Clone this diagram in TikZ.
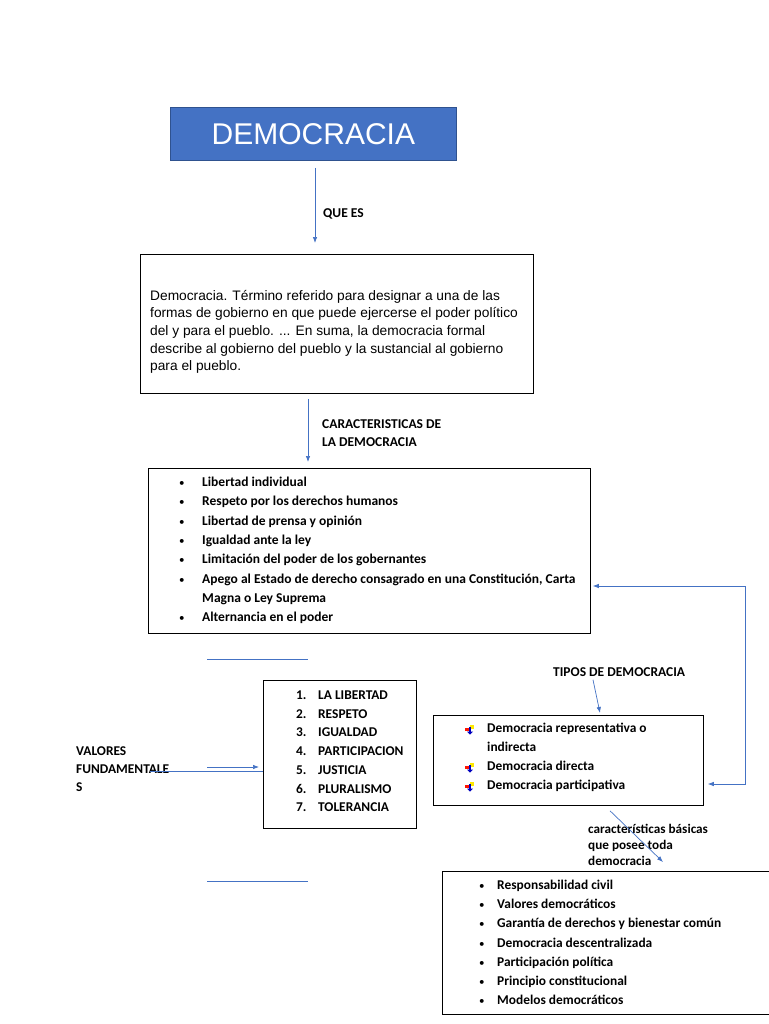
\documentclass[tikz,border=0pt]{standalone}
\usepackage{fontspec}
\setmainfont{Carlito}
\newfontfamily\arial{Liberation Sans}
\usetikzlibrary{arrows.meta,calc,positioning}
\definecolor{azul}{HTML}{4472C4}
\definecolor{azulborde}{HTML}{2F528F}
\newcommand{\vineta}{{\mdseries\fontsize{11}{11}\selectfont\textbullet}}

\begin{document}
\begin{tikzpicture}[x=1pt,y=-1pt,
    caja/.style={draw=black, line width=0.8pt, inner sep=0pt, anchor=north west},
    linea/.style={draw=azul, line width=0.7pt},
    flecha/.style={linea, -{Latex[length=6pt,width=4.5pt]}},
    etiqueta/.style={font=\fontsize{13.5}{17}\selectfont\bfseries, anchor=base west, inner sep=0pt},
    lista/.style={font=\fontsize{13.5}{19.3}\selectfont\bfseries, anchor=base west, inner sep=0pt}]
  \useasboundingbox[fill=white] (0,0) rectangle (768,1024);

  % Titulo
  \node[caja, draw=azulborde, fill=azul, text=white, font=\arial\fontsize{30}{31}\selectfont,
        minimum width=286pt, minimum height=53pt] (titulo) at (170,107) {DEMOCRACIA};

  % Definicion
  \node[caja, minimum width=393pt, minimum height=139pt] (definicion) at (140,254) {};
  \node[anchor=base west, inner sep=0pt, font=\arial\fontsize{13.75}{17.7}\selectfont] (deftexto) at (150,300)
    {\begin{tabular}[t]{@{}l@{}}
      Democracia. Término referido para designar a una de las\\
      formas de gobierno en que puede ejercerse el poder político\\
      del y para el pueblo. ... En suma, la democracia formal\\
      describe al gobierno del pueblo y la sustancial al gobierno\\
      para el pueblo.
    \end{tabular}};

  \coordinate (eje1) at (315,0);
  \draw[flecha, shorten <=7pt, shorten >=11pt] (titulo.south -| eje1) -- (definicion.north -| eje1);
  \node[etiqueta] (quees) at (323,218) {QUE ES};

  % Caracteristicas
  \node[caja, minimum width=442pt, minimum height=165pt] (rasgos) at (148,468) {};
  \node[lista] (rasgostexto) at (179,486.5)
    {\begin{tabular}[t]{@{}p{23pt}@{}l@{}}
      \vineta & Libertad individual\\
      \vineta & Respeto por los derechos humanos\\
      \vineta & Libertad de prensa y opinión\\
      \vineta & Igualdad ante la ley\\
      \vineta & Limitación del poder de los gobernantes\\
      \vineta & Apego al Estado de derecho consagrado en una Constitución, Carta\\
              & Magna o Ley Suprema\\
      \vineta & Alternancia en el poder
    \end{tabular}};

  \coordinate (eje2) at (308,0);
  \draw[flecha, shorten <=5pt, shorten >=6pt] (definicion.south -| eje2) -- (rasgos.north -| eje2);
  \node[etiqueta, font=\fontsize{13.5}{18}\selectfont\bfseries] (caract) at (322,428)
    {\begin{tabular}[t]{@{}l@{}}CARACTERISTICAS DE\\LA DEMOCRACIA\end{tabular}};

  % Lineas sueltas
  \draw[linea] (207,659) -- (308,659);
  \draw[linea] (207,881) -- (308,881);

  % Valores
  \node[caja, minimum width=153pt, minimum height=148pt] (valores) at (263,680) {};
  \node[lista, font=\fontsize{13.4}{18.7}\selectfont\bfseries] (valorestexto) at (296,699.5)
    {\begin{tabular}[t]{@{}p{22pt}@{}l@{}}
      1. & LA LIBERTAD\\
      2. & RESPETO\\
      3. & IGUALDAD\\
      4. & PARTICIPACION\\
      5. & JUSTICIA\\
      6. & PLURALISMO\\
      7. & TOLERANCIA
    \end{tabular}};
  \node[lista, font=\fontsize{13.4}{18}\selectfont\bfseries] (fundam) at (76,755.5)
    {\begin{tabular}[t]{@{}l@{}}VALORES\\FUNDAMENTALE\\S\end{tabular}};
  \coordinate (v1) at (150,771);
  \coordinate (v2) at (207,767);
  \draw[linea] (v1) -- (v1 -| valores.west);
  \draw[flecha] (v2) -- ($(v2 -| valores.west)+(-4,0)$);

  % Tipos de democracia
  \node[caja, minimum width=270pt, minimum height=90pt] (tipos) at (433,715) {};
  \node[lista, font=\fontsize{13.4}{19}\selectfont\bfseries] (tipostexto) at (487,732.5)
    {\begin{tabular}[t]{@{}l@{}}
      Democracia representativa o\\
      indirecta\\
      Democracia directa\\
      Democracia participativa
    \end{tabular}};
  % vinetas de colores
  \foreach \yy in {729,767,786} {
    \fill[red!85!orange] (464.5,\yy-1.5) rectangle (470,\yy+1.5);
    \fill[yellow!90!orange] (470,\yy-4.5) rectangle (474,\yy);
    \fill[blue!75!black] (468.8,\yy-2.5) rectangle (471.2,\yy+3);
    \fill[blue!75!black] (467,\yy+2.5) -- (473,\yy+2.5) -- (470,\yy+5.5) -- cycle;
  }
  \node[etiqueta] (tiposlab) at (553,676.5) {TIPOS DE DEMOCRACIA};
  \draw[flecha] ($(tiposlab.south west)+(40,3)$) -- ($(tipos.north west)+(167,-2)$);

  % Conector derecho
  \coordinate (esquina) at (745,0);
  \draw[linea, {Latex[length=6pt,width=4.5pt]}-{Latex[length=6pt,width=4.5pt]}]
    ($(rasgos.north east)+(2,118)$) -| (esquina |- 0,784) -- ($(tipos.north east)+(4,69)$);

  % Caracteristicas basicas
  \node[caja, minimum width=334pt, minimum height=143pt] (basicas) at (442,871) {};
  \node[lista, font=\fontsize{13.4}{19.17}\selectfont\bfseries] (basicastexto) at (479,889.5)
    {\begin{tabular}[t]{@{}p{18pt}@{}l@{}}
      \vineta & Responsabilidad civil\\
      \vineta & Valores democráticos\\
      \vineta & Garantía de derechos y bienestar común\\
      \vineta & Democracia descentralizada\\
      \vineta & Participación política\\
      \vineta & Principio constitucional\\
      \vineta & Modelos democráticos
    \end{tabular}};
  \node[etiqueta, font=\fontsize{13.2}{16}\selectfont\bfseries] (basicaslab) at (588,833)
    {\begin{tabular}[t]{@{}l@{}}características básicas\\que posee toda\\democracia\end{tabular}};
  \draw[flecha] ($(tipos.south west)+(177,5)$) -- ($(basicas.north west)+(221,-9)$);
\end{tikzpicture}
\end{document}
